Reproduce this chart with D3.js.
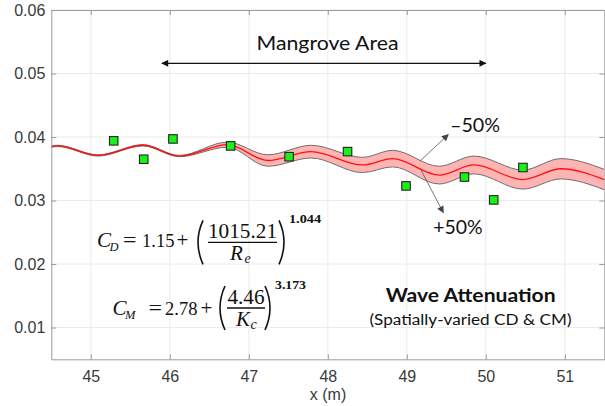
<!DOCTYPE html>
<html>
<head>
<meta charset="utf-8">
<script src="https://cdn.jsdelivr.net/npm/d3@7"></script>
<style>
  html, body { margin: 0; padding: 0; background: #fff; }
  svg { display: block; }
  .tick text { font-family: "Liberation Sans", Arial, sans-serif; font-size: 16px; fill: #3a3a3a; }
  .math { font-family: "Liberation Serif", "Times New Roman", serif; fill: #111; }
  .note { font-family: Lato, "Open Sans", sans-serif; fill: #111; }
</style>
</head>
<body>
<svg id="chart" width="605" height="406"></svg>
<script>
/*
	Data
*/
// measured wave heights (green squares)
var measX = [45.29, 45.67, 46.04, 46.77, 47.51, 48.25, 48.99, 49.73, 50.10, 50.47];
var measY = [0.0394, 0.0365, 0.0397, 0.0386, 0.0369, 0.0377, 0.0323, 0.0337, 0.0301, 0.0352];

// simulated wave height envelope (red line) and half width of the +/-50% band
var waveX  = [44.50, 44.58, 45.09, 45.66, 46.12, 46.73, 47.24, 47.79, 48.44, 48.82, 49.41, 49.85, 50.47, 50.95, 51.50];
var waveY  = [0.0385, 0.0386, 0.0371, 0.0387, 0.0370, 0.0388, 0.0363, 0.0377, 0.0356, 0.0366, 0.0340, 0.0356, 0.0333, 0.0350, 0.0333];
var bandHW = [0.0001, 0.0001, 0.0001, 0.0001, 0.0001, 0.0004, 0.0009, 0.0010, 0.0012, 0.0013, 0.0014, 0.0014, 0.0015, 0.0016, 0.0016];

// axes
var xTicks = [45, 46, 47, 48, 49, 50, 51];
var yTicks = [0.01, 0.02, 0.03, 0.04, 0.05, 0.06];
var xLabel = "x (m)";

// annotations (data units)
var mangroveSpan = [45.9, 50.0];
var mangroveY = 0.0516;

var W = 605, H = 406;
var margin = {left: 51.3, right: 0.7, top: 10, bottom: 46.7};

var svg = d3.select("#chart");

var x = d3.scaleLinear().domain([44.5, 51.5]).range([margin.left, W - margin.right]);
var y = d3.scaleLinear().domain([0.005, 0.06]).range([H - margin.bottom, margin.top]);

var defs = svg.append("defs");
defs.append("clipPath").attr("id", "plot-clip")
	.append("rect")
	.attr("x", x.range()[0]).attr("y", y.range()[1])
	.attr("width", x.range()[1] - x.range()[0])
	.attr("height", y.range()[0] - y.range()[1]);

function arrowMarker(id, color, w, h) {
	defs.append("marker")
		.attr("id", id)
		.attr("viewBox", "0 0 10 10")
		.attr("refX", 9).attr("refY", 5)
		.attr("markerUnits", "userSpaceOnUse")
		.attr("markerWidth", w).attr("markerHeight", h)
		.attr("orient", "auto-start-reverse")
		.append("path")
		.attr("d", "M0,0 L10,5 L0,10 z")
		.attr("fill", color);
}
arrowMarker("head-black", "#111", 8, 7);
arrowMarker("head-gray", "#444", 8, 7);

/*
	Grid
*/
var grid = svg.append("g").attr("class", "grid");
grid.selectAll("line.gx").data(xTicks).enter().append("line")
	.attr("class", "gx")
	.attr("x1", function(d) { return x(d); }).attr("x2", function(d) { return x(d); })
	.attr("y1", y.range()[0]).attr("y2", y.range()[1])
	.attr("stroke", "#ebebeb").attr("stroke-width", 1);
grid.selectAll("line.gy").data(yTicks).enter().append("line")
	.attr("class", "gy")
	.attr("y1", function(d) { return y(d); }).attr("y2", function(d) { return y(d); })
	.attr("x1", x.range()[0]).attr("x2", x.range()[1])
	.attr("stroke", "#ebebeb").attr("stroke-width", 1);

/*
	Band + simulated line
*/
var pts = waveX.map(function(d, i) { return {x: d, y: waveY[i], hw: bandHW[i]}; });

var plot = svg.append("g").attr("clip-path", "url(#plot-clip)");

plot.append("path")
	.datum(pts)
	.attr("fill", "#ffb4b4")
	.attr("d", d3.area().curve(d3.curveMonotoneX)
		.x(function(d) { return x(d.x); })
		.y0(function(d) { return y(d.y - d.hw); })
		.y1(function(d) { return y(d.y + d.hw); }));

[1, -1].forEach(function(s) {
	plot.append("path")
		.datum(pts)
		.attr("fill", "none")
		.attr("stroke", "#6e6e6e")
		.attr("stroke-width", 1)
		.attr("d", d3.line().curve(d3.curveMonotoneX)
			.x(function(d) { return x(d.x); })
			.y(function(d) { return y(d.y + s * d.hw); }));
});

plot.append("path")
	.datum(pts)
	.attr("fill", "none")
	.attr("stroke", "#ff1010")
	.attr("stroke-width", 1.3)
	.attr("d", d3.line().curve(d3.curveMonotoneX)
		.x(function(d) { return x(d.x); })
		.y(function(d) { return y(d.y); }));

/*
	Measured points
*/
var sq = 8.5;
svg.append("g").selectAll("rect").data(measX).enter().append("rect")
	.attr("x", function(d) { return x(d) - sq / 2; })
	.attr("y", function(d, i) { return y(measY[i]) - sq / 2; })
	.attr("width", sq).attr("height", sq)
	.attr("fill", "#19f219")
	.attr("stroke", "#222")
	.attr("stroke-width", 1.1);

/*
	Axes (box on, ticks inside)
*/
var axColor = "#9a9a9a";
function styleAxis(g) {
	g.select(".domain").attr("stroke", axColor);
	g.selectAll(".tick line").attr("stroke", axColor);
}
svg.append("g")
	.attr("transform", "translate(0," + y.range()[0] + ")")
	.call(d3.axisBottom(x).tickValues(xTicks).tickFormat(d3.format("d"))
		.tickSizeInner(-5).tickSizeOuter(0).tickPadding(11))
	.call(styleAxis);
svg.append("g")
	.attr("transform", "translate(0," + y.range()[1] + ")")
	.call(d3.axisTop(x).tickValues(xTicks).tickFormat("")
		.tickSizeInner(-5).tickSizeOuter(0))
	.call(styleAxis);
svg.append("g")
	.attr("transform", "translate(" + x.range()[0] + ",0)")
	.call(d3.axisLeft(y).tickValues(yTicks).tickFormat(d3.format(".2f"))
		.tickSizeInner(-5).tickSizeOuter(0).tickPadding(6))
	.call(styleAxis);
svg.append("g")
	.attr("transform", "translate(" + x.range()[1] + ",0)")
	.call(d3.axisRight(y).tickValues(yTicks).tickFormat("")
		.tickSizeInner(-5).tickSizeOuter(0))
	.call(styleAxis);

svg.append("text")
	.attr("x", 328).attr("y", 400)
	.attr("text-anchor", "middle")
	.style("font-family", "'Liberation Sans', Arial, sans-serif")
	.style("font-size", "16px")
	.style("fill", "#3a3a3a")
	.text(xLabel);

/*
	Mangrove area annotation
*/
svg.append("line")
	.attr("x1", x(mangroveSpan[0])).attr("x2", x(mangroveSpan[1]))
	.attr("y1", y(mangroveY)).attr("y2", y(mangroveY))
	.attr("stroke", "#111").attr("stroke-width", 1.3)
	.attr("marker-start", "url(#head-black)")
	.attr("marker-end", "url(#head-black)");
svg.append("text").attr("class", "note")
	.attr("x", 327.5).attr("y", 50)
	.attr("text-anchor", "middle")
	.attr("textLength", 142).attr("lengthAdjust", "spacingAndGlyphs")
	.style("font-size", "19.5px")
	.text("Mangrove Area");

/*
	+/-50% annotation
*/
var ann = [
	{x1: 49.167, y1: 0.0362, x2: 49.525, y2: 0.0404, label: "\u201350%", tx: 475, ty: 132.3, tl: 50},
	{x1: 49.18, y1: 0.0348, x2: 49.462, y2: 0.0281, label: "+50%", tx: 458, ty: 234.3, tl: 49.4}
];
ann.forEach(function(a) {
	svg.append("line")
		.attr("x1", x(a.x1)).attr("y1", y(a.y1))
		.attr("x2", x(a.x2)).attr("y2", y(a.y2))
		.attr("stroke", "#555").attr("stroke-width", 0.8)
		.attr("marker-end", "url(#head-gray)");
	svg.append("text").attr("class", "note")
		.attr("x", a.tx).attr("y", a.ty)
		.attr("text-anchor", "middle")
		.attr("textLength", a.tl).attr("lengthAdjust", "spacingAndGlyphs")
		.style("font-size", "18.5px")
		.text(a.label);
});

/*
	Title block
*/
svg.append("text").attr("class", "note")
	.attr("x", 470.7).attr("y", 301.7)
	.attr("text-anchor", "middle")
	.attr("textLength", 170).attr("lengthAdjust", "spacingAndGlyphs")
	.style("font-size", "18.5px").style("font-weight", "bold")
	.text("Wave Attenuation");
svg.append("text").attr("class", "note")
	.attr("x", 470.5).attr("y", 325)
	.attr("text-anchor", "middle")
	.attr("textLength", 202).attr("lengthAdjust", "spacingAndGlyphs")
	.style("font-size", "15.5px")
	.text("(Spatially-varied CD & CM)");

/*
	Formulas
*/
function formula(f) {
	var g = svg.append("g").attr("class", "math");
	function t(str, xx, yy, size, anchor, italic, len) {
		var el = g.append("text")
			.attr("x", xx).attr("y", yy)
			.attr("text-anchor", anchor || "start")
			.style("font-size", size + "px")
			.style("font-style", italic ? "italic" : "normal")
			.text(str);
		if (len) el.attr("textLength", len).attr("lengthAdjust", "spacingAndGlyphs");
		return el;
	}
	t("C", f.cx, f.base, 21, "start", true);
	t(f.sub, f.cx + 12.5, f.base + 4, 12.5, "start", true);
	t("=", f.eqx, f.base, 21, "start", false, 13.5);
	t(f.c0, f.c0x, f.base, 18.5);
	t("+", f.px, f.base, 21);
	// parentheses
	var top = f.bar - 22, bot = f.bar + 22;
	g.append("path")
		.attr("d", "M" + (f.lp + 7) + "," + top + " Q" + (f.lp - 3) + "," + f.bar + " " + (f.lp + 7) + "," + bot)
		.attr("fill", "none").attr("stroke", "#111").attr("stroke-width", 1.6);
	g.append("path")
		.attr("d", "M" + (f.rp - 7) + "," + top + " Q" + (f.rp + 3) + "," + f.bar + " " + (f.rp - 7) + "," + bot)
		.attr("fill", "none").attr("stroke", "#111").attr("stroke-width", 1.6);
	g.append("line")
		.attr("x1", f.b0).attr("x2", f.b1)
		.attr("y1", f.bar).attr("y2", f.bar)
		.attr("stroke", "#111").attr("stroke-width", 1.3);
	var mid = (f.b0 + f.b1) / 2;
	t(f.num, mid, f.bar - 4.5, 21, "middle", false, f.numlen);
	t(f.den, f.dx, f.bar + 18, 21, "start", true);
	t(f.dsub, f.dx + 14.5, f.bar + 21, 14, "start", true);
	t(f.pow, f.rp + 3, f.bar - 19.5, 13.5, "start", false, f.powlen).style("font-weight", "bold");
}

formula({cx: 97, sub: "D", base: 247.3, eqx: 123, c0: "1.15", c0x: 142, px: 176.5,
	lp: 196, rp: 286, b0: 208, b1: 277, bar: 242.3,
	num: "1015.21", numlen: 69, den: "R", dx: 230, dsub: "e", pow: "1.044", powlen: 32});
formula({cx: 112.5, sub: "M", base: 315, eqx: 148.5, c0: "2.78", c0x: 165, px: 200.5,
	lp: 218, rp: 272, b0: 227, b1: 265, bar: 308,
	num: "4.46", numlen: 37, den: "K", dx: 236, dsub: "c", pow: "3.173", powlen: 31});
</script>
</body>
</html>
